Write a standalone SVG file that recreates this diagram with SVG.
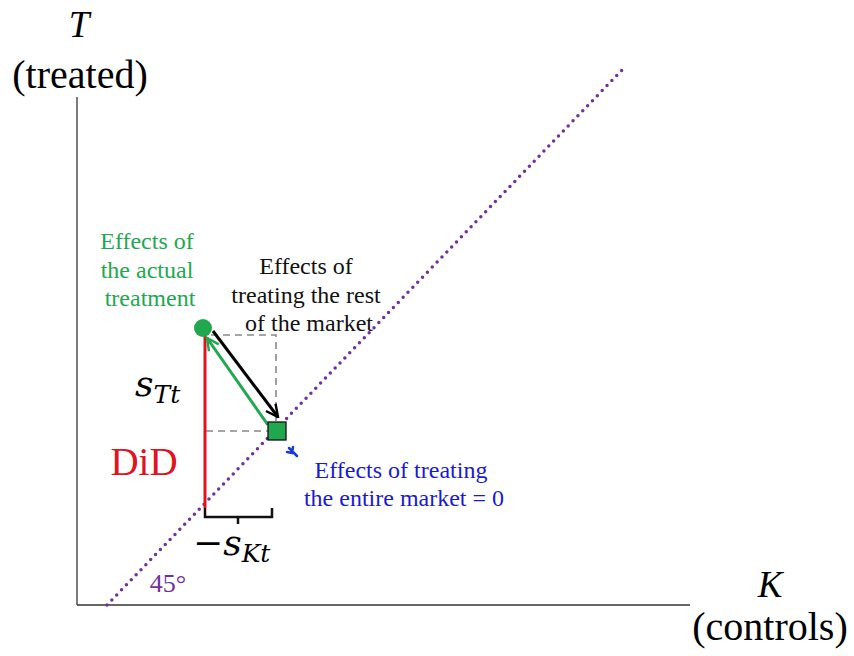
<svg xmlns="http://www.w3.org/2000/svg" width="854" height="656" viewBox="0 0 854 656">
<style>
.serif{font-family:"Liberation Serif","Times New Roman",serif;}
.ital{font-family:"Liberation Serif","Times New Roman",serif;font-style:italic;}
.math{font-family:"DejaVu Serif","Liberation Serif",serif;font-style:italic;}
.axis{stroke:#333;stroke-width:1.3;fill:none;}
.dash{stroke:#888;stroke-width:1.6;stroke-dasharray:7 5;fill:none;}
</style>
<defs>
<marker id="ahBlack" viewBox="0 0 10 10" refX="9" refY="5" markerWidth="5" markerHeight="5" orient="auto" markerUnits="strokeWidth">
<path d="M1,1 L9,5 L1,9" fill="none" stroke="#000" stroke-width="1.6"/>
</marker>
<marker id="ahGreen" viewBox="0 0 10 10" refX="9" refY="5" markerWidth="5" markerHeight="5" orient="auto" markerUnits="strokeWidth">
<path d="M1,1 L9,5 L1,9" fill="none" stroke="#21a84e" stroke-width="1.6"/>
</marker>
</defs>
<rect width="854" height="656" fill="#fff"/>
<g id="axes">
<line class="axis" x1="77" y1="97" x2="77" y2="605"/>
<line class="axis" x1="77" y1="605" x2="690" y2="605"/>
<text class="ital" x="79" y="37" font-size="37" text-anchor="middle">T</text>
<text class="serif" x="80" y="88" font-size="40" text-anchor="middle">(treated)</text>
<text class="ital" x="770" y="597" font-size="37" text-anchor="middle">K</text>
<text class="serif" x="770" y="640" font-size="40" text-anchor="middle">(controls)</text>
</g>
<g id="diagonal">
<line x1="107" y1="605" x2="622" y2="70" stroke="#7030a0" stroke-width="3.5" stroke-linecap="round" stroke-dasharray="0 7"/>
<text class="serif" x="168" y="592" font-size="26" fill="#7030a0" text-anchor="middle">45°</text>
</g>
<g id="connectors">
<polyline class="dash" points="211,335 276,335 276,422"/>
<line class="dash" x1="206" y1="431" x2="268" y2="431"/>
<line x1="205" y1="330" x2="205" y2="508" stroke="#e0141e" stroke-width="3"/>
<line x1="213" y1="331" x2="278" y2="417" stroke="#000" stroke-width="3" marker-end="url(#ahBlack)"/>
<line x1="268" y1="425" x2="207" y2="338" stroke="#21a84e" stroke-width="3" marker-end="url(#ahGreen)"/>
<path d="M205,508 V517 H272 V508 M238,517 V524" fill="none" stroke="#111" stroke-width="2.5"/>
<path d="M289,448 L297,456 M287,452 L292,453 L293,447" fill="none" stroke="#1a3ad8" stroke-width="2.5" stroke-linecap="round"/>
</g>
<g id="actual-point">
<circle cx="203" cy="328" r="9" fill="#21a84e"/>
<text class="serif" font-size="24" fill="#21a84e" text-anchor="middle">
<tspan x="150" y="249">Effects of</tspan>
<tspan x="150" y="278">the actual</tspan>
<tspan x="150" y="306">treatment</tspan>
</text>
</g>
<g id="market-point">
<rect x="268" y="422" width="18" height="18" fill="#21a84e" stroke="#111" stroke-width="1.3"/>
<text class="serif" font-size="24" fill="#1a1acd" text-anchor="middle">
<tspan x="404" y="478">Effects of treating</tspan>
<tspan x="404" y="506">the entire market = 0</tspan>
</text>
</g>
<g id="rest-label">
<text class="serif" font-size="24" fill="#111" text-anchor="middle">
<tspan x="309" y="274">Effects of</tspan>
<tspan x="309" y="303">treating the rest</tspan>
<tspan x="309" y="331">of the market</tspan>
</text>
</g>
<g id="labels">
<text class="math" x="135" y="396" font-size="36" fill="#000">s<tspan font-size="25" dy="7">Tt</tspan></text>
<text class="serif" x="144" y="475" font-size="39" fill="#e0141e" text-anchor="middle">DiD</text>
<text class="math" x="193" y="555" font-size="36" fill="#000">−s<tspan font-size="25" dy="7">Kt</tspan></text>
</g>
</svg>
